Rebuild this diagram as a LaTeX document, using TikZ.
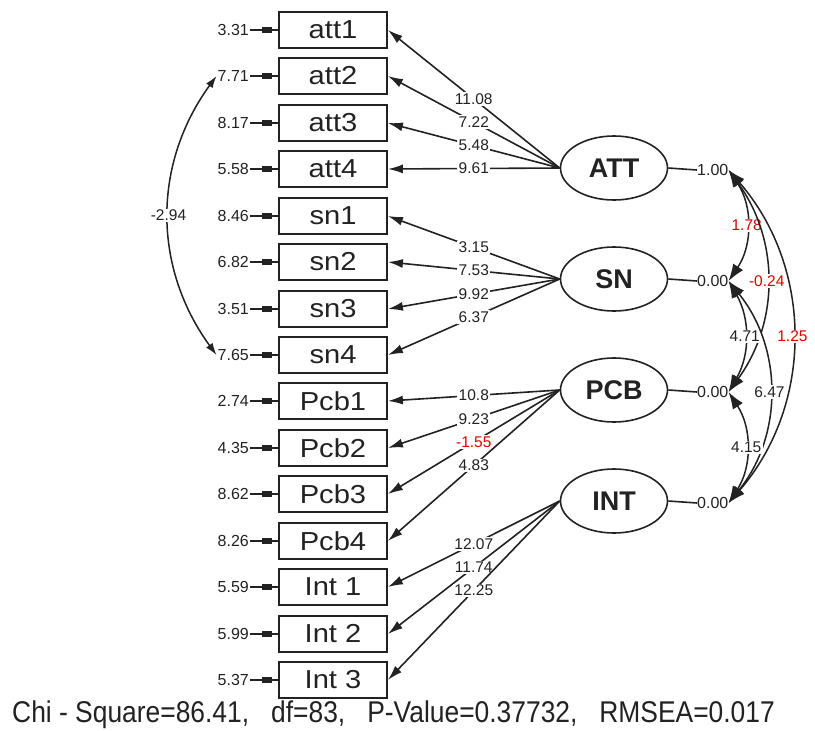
\documentclass[tikz,border=0pt]{standalone}
\usepackage{fontspec}
\setmainfont{Liberation Sans}
\newfontfamily\narrowfont[FakeStretch=0.88]{Liberation Sans}
\newfontfamily\widefont[FakeStretch=1.12]{Liberation Sans}
\usetikzlibrary{arrows.meta,shapes.geometric}
\definecolor{ink}{HTML}{222222}
\definecolor{negred}{HTML}{E00000}

\begin{document}
\begin{tikzpicture}[
    x=1pt, y=-1pt,
    >={Latex[length=15pt,width=9pt]},
    obs/.style={rectangle, draw=ink, line width=1.8pt, minimum width=108pt,
                minimum height=36pt, inner sep=0pt, text=ink,
                font=\widefont\fontsize{26}{26}\selectfont},
    lat/.style={ellipse, draw=ink, line width=1.6pt, minimum width=107pt,
                minimum height=64pt, inner sep=0pt, text=ink,
                font=\fontsize{27}{27}\selectfont\bfseries},
    err/.style={anchor=east, inner sep=1pt, text=ink, font=\fontsize{16}{16}\selectfont},
    var/.style={anchor=west, inner sep=0pt, text=ink, font=\fontsize{16}{16}\selectfont},
    coef/.style={fill=white, inner sep=1.5pt, text=ink, font=\fontsize{15.5}{15.5}\selectfont},
    neg/.style={coef, text=negred},
    load/.style={->, draw=ink, line width=1.6pt},
    cov/.style={{Latex[length=17pt,width=12pt]}-{Latex[length=17pt,width=12pt]},
                draw=ink, line width=1.5pt},
    ecov/.style={{Latex[length=12pt,width=8pt]}-{Latex[length=12pt,width=8pt]},
                 draw=ink, line width=1.5pt},
    tail/.style={draw=ink, line width=1.6pt},
    sq/.style={fill=ink, minimum width=10pt, minimum height=6pt, inner sep=0pt}
]
\useasboundingbox (0,0) rectangle (815,731);

% Indicadores
\node[obs] (att1) at (333,30)  {att1};
\node[obs] (att2) at (333,76)  {att2};
\node[obs] (att3) at (333,123) {att3};
\node[obs] (att4) at (333,169) {att4};
\node[obs] (sn1)  at (333,216) {sn1};
\node[obs] (sn2)  at (333,262) {sn2};
\node[obs] (sn3)  at (333,309) {sn3};
\node[obs] (sn4)  at (333,355) {sn4};
\node[obs] (pcb1) at (333,401) {Pcb1};
\node[obs] (pcb2) at (333,448) {Pcb2};
\node[obs] (pcb3) at (333,494) {Pcb3};
\node[obs] (pcb4) at (333,541) {Pcb4};
\node[obs] (int1) at (333,587) {Int 1};
\node[obs] (int2) at (333,634) {Int 2};
\node[obs] (int3) at (333,680) {Int 3};

% Errores
\node[err] (eatt1) at (250,30)  {3.31};
\node[err] (eatt2) at (250,76)  {7.71};
\node[err] (eatt3) at (250,123) {8.17};
\node[err] (eatt4) at (250,169) {5.58};
\node[err] (esn1)  at (250,216) {8.46};
\node[err] (esn2)  at (250,262) {6.82};
\node[err] (esn3)  at (250,309) {3.51};
\node[err] (esn4)  at (250,355) {7.65};
\node[err] (epcb1) at (250,401) {2.74};
\node[err] (epcb2) at (250,448) {4.35};
\node[err] (epcb3) at (250,494) {8.62};
\node[err] (epcb4) at (250,541) {8.26};
\node[err] (eint1) at (250,587) {5.59};
\node[err] (eint2) at (250,634) {5.99};
\node[err] (eint3) at (250,680) {5.37};

\draw[tail] (eatt1) -- node[pos=0.6, sq] {} (att1);
\draw[tail] (eatt2) -- node[pos=0.6, sq] {} (att2);
\draw[tail] (eatt3) -- node[pos=0.6, sq] {} (att3);
\draw[tail] (eatt4) -- node[pos=0.6, sq] {} (att4);
\draw[tail] (esn1)  -- node[pos=0.6, sq] {} (sn1);
\draw[tail] (esn2)  -- node[pos=0.6, sq] {} (sn2);
\draw[tail] (esn3)  -- node[pos=0.6, sq] {} (sn3);
\draw[tail] (esn4)  -- node[pos=0.6, sq] {} (sn4);
\draw[tail] (epcb1) -- node[pos=0.6, sq] {} (pcb1);
\draw[tail] (epcb2) -- node[pos=0.6, sq] {} (pcb2);
\draw[tail] (epcb3) -- node[pos=0.6, sq] {} (pcb3);
\draw[tail] (epcb4) -- node[pos=0.6, sq] {} (pcb4);
\draw[tail] (eint1) -- node[pos=0.6, sq] {} (int1);
\draw[tail] (eint2) -- node[pos=0.6, sq] {} (int2);
\draw[tail] (eint3) -- node[pos=0.6, sq] {} (int3);

% Covarianza de errores
\draw[ecov] (eatt2.west) to[bend right=36] node[coef] {-2.94} (esn4.west);

% Variables latentes
\node[lat] (att) at (614,168) {ATT};
\node[lat] (sn)  at (614,279) {SN};
\node[lat] (pcb) at (614,390) {PCB};
\node[lat] (int) at (614,501) {INT};

\node[var] (vatt) at (697,170) {1.00};
\node[var] (vsn)  at (697,281) {0.00};
\node[var] (vpcb) at (697,392) {0.00};
\node[var] (vint) at (697,503) {0.00};

\draw[tail] (att.east) -- (vatt.west);
\draw[tail] (sn.east)  -- (vsn.west);
\draw[tail] (pcb.east) -- (vpcb.west);
\draw[tail] (int.east) -- (vint.west);

% Cargas factoriales
\draw[load] (att.west) -- node[coef] {11.08} (att1.east);
\draw[load] (att.west) -- node[coef] {7.22}  (att2.east);
\draw[load] (att.west) -- node[coef] {5.48}  (att3.east);
\draw[load] (att.west) -- node[coef] {9.61}  (att4.east);

\draw[load] (sn.west) -- node[coef] {3.15} (sn1.east);
\draw[load] (sn.west) -- node[coef] {7.53} (sn2.east);
\draw[load] (sn.west) -- node[coef] {9.92} (sn3.east);
\draw[load] (sn.west) -- node[coef] {6.37} (sn4.east);

\draw[load] (pcb.west) -- node[coef] {10.8}  (pcb1.east);
\draw[load] (pcb.west) -- node[coef] {9.23}  (pcb2.east);
\draw[load] (pcb.west) -- node[neg]  {-1.55} (pcb3.east);
\draw[load] (pcb.west) -- node[coef] {4.83}  (pcb4.east);

\draw[load] (int.west) -- node[coef] {12.07} (int1.east);
\draw[load] (int.west) -- node[coef] {11.74} (int2.east);
\draw[load] (int.west) -- node[coef] {12.25} (int3.east);

% Covarianzas entre latentes
\draw[cov] (vatt.east) to[bend left=34] node[neg]  {1.78}  (vsn.east);
\draw[cov] (vatt.east) to[bend left=36] node[neg]  {-0.24} (vpcb.east);
\draw[cov] (vatt.east) to[bend left=41] node[neg]  {1.25}  (vint.east);
\draw[cov] (vsn.east)  to[bend left=30] node[coef] {4.71}  (vpcb.east);
\draw[cov] (vsn.east)  to[bend left=39] node[coef] {6.47}  (vint.east);
\draw[cov] (vpcb.east) to[bend left=33] node[coef] {4.15}  (vint.east);

% Ajuste
\node[anchor=base west, inner sep=0pt, text=ink, font=\narrowfont\fontsize{30}{30}\selectfont]
  (fit) at (12,722) {Chi - Square=86.41,~~~df=83,~~~P-Value=0.37732,~~~RMSEA=0.017};

\end{tikzpicture}
\end{document}
